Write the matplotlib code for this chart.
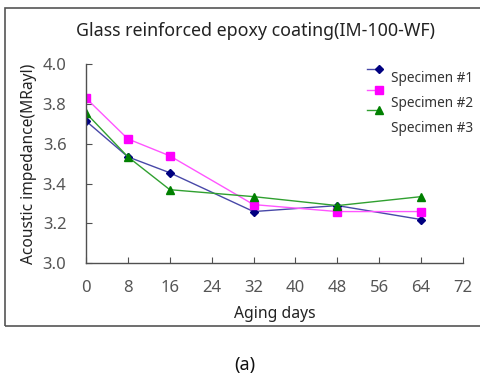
import matplotlib
matplotlib.use("Agg")
import matplotlib.pyplot as plt
from matplotlib.patches import Rectangle
from matplotlib.legend_handler import HandlerLine2D
from matplotlib.transforms import Affine2D

days = [0, 8, 16, 32, 48, 64]
spec1 = [3.715, 3.535, 3.455, 3.26, 3.29, 3.22]
spec2 = [3.83, 3.625, 3.54, 3.295, 3.26, 3.26]
spec3 = [3.755, 3.535, 3.37, 3.335, 3.29, 3.335]
labels = ["Specimen #1", "Specimen #2", "Specimen #3"]
xticks = [0, 8, 16, 24, 32, 40, 48, 56, 64, 72]
yticks = [3.0, 3.2, 3.4, 3.6, 3.8, 4.0]

plt.rcParams['font.family'] = ['Noto Sans', 'DejaVu Sans']

W, H = 481, 376
fig = plt.figure(figsize=(W/100, H/100), dpi=100)

# outer frame
fig.patches.append(Rectangle((5/W, 1-326/H), (484-5)/W, (326-8)/H,
                             transform=fig.transFigure, fill=False,
                             edgecolor='#555555', linewidth=1.2))

ax = fig.add_axes([86/W, 1-263.3/H, (463-86)/W, (263.3-64.3)/H])
series = [spec1, spec2, spec3]
colors = ['#000080', '#FF00FF', '#008000']
lcolors = ['#4848a8', '#ff55ff', '#30a030']
markers = ['D', 's', '^']
msizes = [4, 6, 6]
lines = []
for s, c, lc, m, ms, lab in zip(series, colors, lcolors, markers, msizes, labels):
    ln, = ax.plot(days, s, color=lc, linewidth=1.0, marker=m, markersize=ms,
                  markerfacecolor=c, markeredgecolor=c, label=lab)
    lines.append(ln)

ax.set_xlim(0, 72)
ax.set_ylim(3.0, 4.0)
ax.set_xticks(xticks)
ax.set_yticks(yticks)
ax.set_yticklabels([f"{v:.1f}" for v in yticks])
for sp in ['top', 'right']:
    ax.spines[sp].set_visible(False)
for sp in ['left', 'bottom']:
    ax.spines[sp].set_color('#505050')
    ax.spines[sp].set_linewidth(1.0)
ax.tick_params(direction='in', length=4, color='#505050', labelcolor='#555555',
               labelsize=12)
ax.tick_params(axis='y', pad=14)
ax.tick_params(axis='x', pad=12)
ax.set_xlabel("Aging days", fontsize=11.3, color='#222222', labelpad=7)
ax.set_ylabel("Acoustic impedance(MRayl)", fontsize=11.2, color='#222222', labelpad=4)
ax.patch.set_alpha(0)

fig.text(256/W, 1-31/H, "Glass reinforced epoxy coating(IM-100-WF)",
         ha='center', va='center', fontsize=12.8, color='#222222')
fig.text(245/W, 1-365/H, "(a)", ha='center', va='center', fontsize=13, color='#111111')

# Excel-style legend: marker at right end of short line, raised above its text
offsets = {id(lines[0]): 8, id(lines[1]): 12.5, id(lines[2]): 16.5}

class RaisedHandler(HandlerLine2D):
    def create_artists(self, legend, orig_handle, xdescent, ydescent, width,
                       height, fontsize, trans):
        dy = offsets[id(orig_handle)]
        t2 = trans + Affine2D().translate(0, dy)
        arts = super().create_artists(legend, orig_handle, xdescent, ydescent,
                                      width, height, fontsize, t2)
        for a in arts:
            if a.get_markevery() is not None:
                a.set_markevery([len(a.get_xdata()) - 1])
        return arts

leg = fig.legend(handles=lines, labels=labels, loc='upper left',
                 bbox_to_anchor=(367/W, 1-71/H), frameon=False,
                 fontsize=9.8, handlelength=0.9, labelspacing=0.72,
                 handletextpad=0.85, borderpad=0, borderaxespad=0,
                 labelcolor='#333333', numpoints=1,
                 handler_map={l: RaisedHandler() for l in lines})

fig.savefig("out.png", dpi=100)
